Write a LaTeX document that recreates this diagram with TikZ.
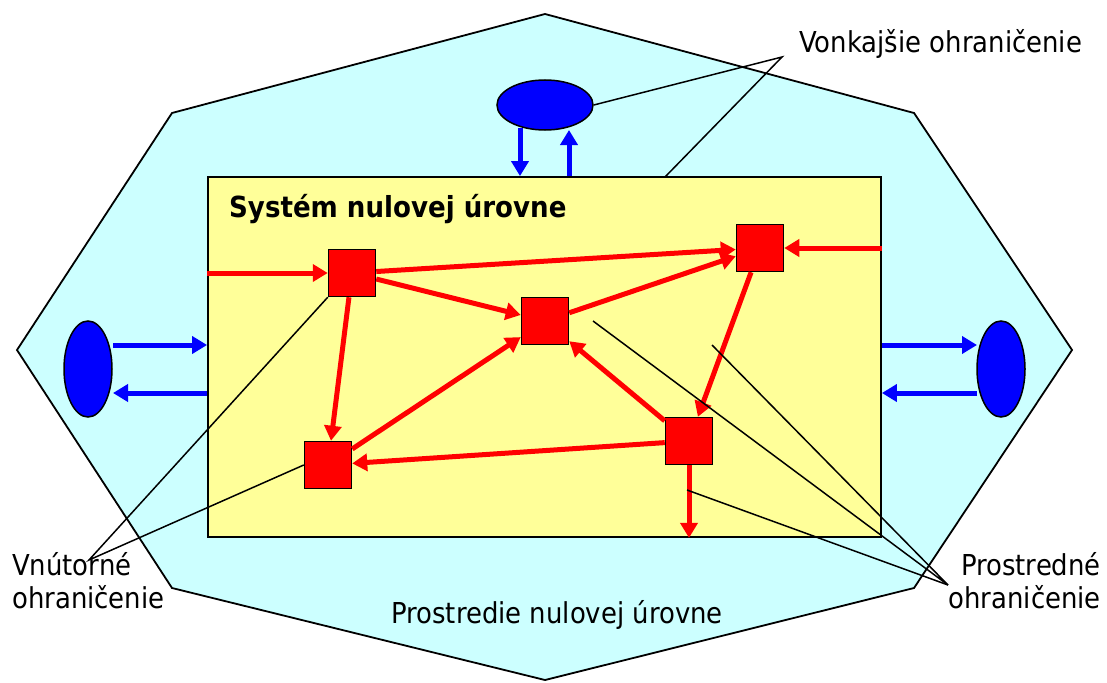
\documentclass[tikz,border=0pt]{standalone}
\usepackage{fontspec}
\setmainfont{DejaVu Sans}[FakeStretch=0.9]
\usepackage{tikz}
\usetikzlibrary{arrows.meta,shapes.geometric}
\definecolor{envcol}{RGB}{204,255,255}
\definecolor{syscol}{RGB}{255,255,153}
\tikzset{flow/.style={-{Triangle[length=15pt,width=17pt]},line width=5pt},
    part/.style={draw,fill=red,line width=1.5pt,minimum size=47pt,inner sep=0pt},
    outer/.style={draw,fill=blue,ellipse,line width=1.5pt,inner sep=0pt},
    callout/.style={line width=1.5pt},
    lbl/.style={font=\fontsize{28.8}{33}\selectfont,inner sep=0pt}}
\begin{document}
\begin{tikzpicture}[x=1pt,y=-1pt]
  \useasboundingbox (0,0) rectangle (1107,682);
  \draw[fill=envcol,line width=1.8pt] (545,14) -- (914,113) -- (1072,350) -- (914,588)
    -- (545,680) -- (172,588) -- (17,350) -- (172,113) -- cycle;
  \node[draw,fill=syscol,line width=1.8pt,minimum width=673pt,minimum height=360pt] (sys) at (544.5,357) {};
  \node[lbl,font=\fontsize{29}{33}\selectfont\bfseries,anchor=base west] (title) at (229,217) {Systém nulovej úrovne};
  \node[part] (A) at (352,273) {};
  \node[part] (B) at (545,321) {};
  \node[part] (C) at (760,248) {};
  \node[part] (D) at (328,465) {};
  \node[part] (E) at (689,441) {};
  \node[outer,minimum width=96pt,minimum height=50pt] (top) at (545,105) {};
  \node[outer,minimum width=48pt,minimum height=96pt] (left) at (88,369) {};
  \node[outer,minimum width=48pt,minimum height=96pt] (right) at (1001,369) {};
  \draw[flow,red] (sys.west |- A) -- (A);
  \draw[flow,red] (A) -- (C);
  \draw[flow,red] (A) -- (B);
  \draw[flow,red] (B) -- (C);
  \draw[flow,red] (sys.east |- C) -- (C);
  \draw[flow,red] (C) -- (E);
  \draw[flow,red] (A) -- (D);
  \draw[flow,red] (D) -- (B);
  \draw[flow,red] (E) -- (B);
  \draw[flow,red] (E) -- (D);
  \draw[flow,red] (E) -- (E |- sys.south);
  \coordinate (tIn) at (520,128);
  \coordinate (tOut) at (569,130);
  \coordinate (lIn) at (113,345);
  \coordinate (lOut) at (113,393);
  \coordinate (rIn) at (977,345);
  \coordinate (rOut) at (977,393);
  \draw[flow,blue] (tIn) -- (tIn |- sys.north);
  \draw[flow,blue] (tOut |- sys.north) -- (tOut);
  \draw[flow,blue] (lIn) -- (lIn -| sys.west);
  \draw[flow,blue] (lOut -| sys.west) -- (lOut);
  \draw[flow,blue] (rIn -| sys.east) -- (rIn);
  \draw[flow,blue] (rOut) -- (rOut -| sys.east);
  \node[lbl,anchor=base west] (von) at (799,53) {Vonkajšie ohraničenie};
  \node[lbl,anchor=north west,align=left] (vnu) at (12,552) {Vnútorné\\ohraničenie};
  \node[lbl,anchor=north east,align=right] (pro) at (1101,552) {Prostredné\\ohraničenie};
  \node[lbl,anchor=base] (env) at (557,623) {Prostredie nulovej úrovne};
  \coordinate (vonTip) at (782,57);
  \coordinate (vnuTip) at (89,560);
  \coordinate (proTip) at (948,585);
  \coordinate (s1) at (665,177);
  \coordinate (p1) at (593,321);
  \coordinate (p2) at (712,345);
  \coordinate (p3) at (687,490);
  \draw[callout] (top.east) -- (vonTip) -- (s1);
  \draw[callout] (A.south west) -- (vnuTip) -- (D.west);
  \draw[callout] (p1) -- (proTip) -- (p2);
  \draw[callout] (proTip) -- (p3);
\end{tikzpicture}
\end{document}
